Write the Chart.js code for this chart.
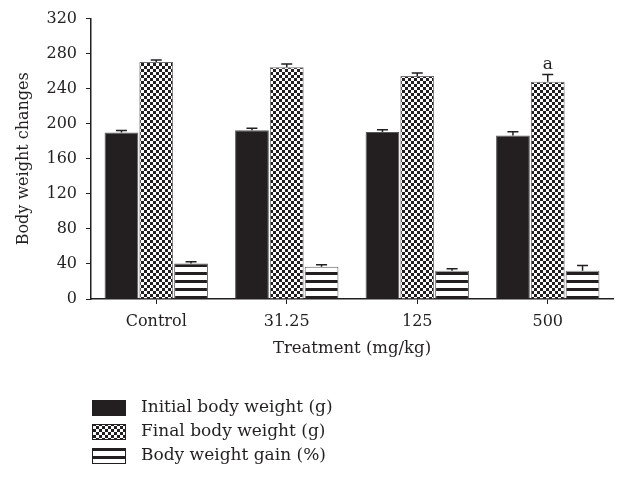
<!DOCTYPE html>
<html>
<head>
<meta charset="utf-8">
<script src="https://cdn.jsdelivr.net/npm/chart.js@4/dist/chart.umd.min.js"></script>
<style>
  html, body { margin: 0; padding: 0; background: #fff; }
  #wrap { width: 624px; height: 477px; position: relative; }
</style>
</head>
<body>
<div id="wrap"><canvas id="bwChart"></canvas></div>
<script>
// values
const treatments = ["Control", "31.25", "125", "500"];
const initialWeight = [190, 192.5, 190.5, 186.5];
const initialErr = [2.3, 2.3, 2.6, 4.5];
const finalWeight = [270.5, 264.5, 254.5, 248];
const finalErr = [2.3, 3.7, 3.4, 8.3];
const weightGain = [40.5, 36.7, 32.1, 32.1];
const gainErr = [2, 2.3, 2.3, 6];
const finalMarks = ["", "", "", "a"];
const yTicks = [0, 40, 80, 120, 160, 200, 240, 280, 320];

const ink = '#231f20';
const serif = "'DejaVu Serif', 'Liberation Serif', serif";

// checkerboard fill for final weight
function checkerPattern(size) {
  const c = document.createElement('canvas');
  c.width = size * 2; c.height = size * 2;
  const g = c.getContext('2d');
  g.fillStyle = '#fff'; g.fillRect(0, 0, c.width, c.height);
  g.fillStyle = ink;
  g.fillRect(0, 0, size, size);
  g.fillRect(size, size, size, size);
  return g.createPattern(c, 'repeat');
}

// horizontal stripes for weight gain
function stripePattern(period, thick) {
  const c = document.createElement('canvas');
  c.width = 4; c.height = period;
  const g = c.getContext('2d');
  g.fillStyle = '#fff'; g.fillRect(0, 0, c.width, c.height);
  g.fillStyle = ink; g.fillRect(0, 0, c.width, thick);
  return g.createPattern(c, 'repeat');
}

const errorSets = [initialErr, finalErr, gainErr];

// draws the upper error bars and the "a" mark
const errorBars = {
  id: 'errorBars',
  afterDatasetsDraw(chart) {
    const ctx = chart.ctx;
    const y = chart.scales.y;
    ctx.save();
    ctx.strokeStyle = ink;
    ctx.lineWidth = 1.5;
    chart.data.datasets.forEach(function (ds, d) {
      const meta = chart.getDatasetMeta(d);
      meta.data.forEach(function (bar, i) {
        const top = y.getPixelForValue(ds.data[i] + errorSets[d][i]);
        ctx.beginPath();
        ctx.moveTo(bar.x, bar.y);
        ctx.lineTo(bar.x, top);
        ctx.moveTo(bar.x - 5.5, top);
        ctx.lineTo(bar.x + 5.5, top);
        ctx.stroke();
        if (d === 1 && finalMarks[i]) {
          ctx.fillStyle = ink;
          ctx.font = "17px " + serif;
          ctx.textAlign = 'center';
          ctx.textBaseline = 'bottom';
          ctx.fillText(finalMarks[i], bar.x, top - 1);
        }
      });
    });
    ctx.restore();
  }
};

// stacked legend under the axis title
const stackedLegend = {
  id: 'stackedLegend',
  afterDraw(chart) {
    const ctx = chart.ctx;
    const x0 = 92;
    let yy = 400;
    ctx.save();
    ctx.font = "17px " + serif;
    ctx.textBaseline = 'middle';
    ctx.textAlign = 'left';
    chart.data.datasets.forEach(function (ds) {
      ctx.fillStyle = ds.backgroundColor;
      ctx.fillRect(x0, yy, 34, 16);
      ctx.strokeStyle = ink;
      ctx.lineWidth = 1;
      ctx.strokeRect(x0 + 0.5, yy + 0.5, 33, 15);
      ctx.fillStyle = ink;
      ctx.fillText(ds.label, 141, yy + 8);
      yy += 24;
    });
    ctx.restore();
  }
};

const ctx = document.getElementById('bwChart').getContext('2d');
const bwChart = new Chart(ctx, {
  type: 'bar',
  data: {
    labels: treatments,
    datasets: [
      {
        label: 'Initial body weight (g)',
        data: initialWeight,
        backgroundColor: ink,
        borderColor: '#58595b',
        borderWidth: 1
      },
      {
        label: 'Final body weight (g)',
        data: finalWeight,
        backgroundColor: checkerPattern(3),
        borderColor: '#6d6e71',
        borderWidth: 1
      },
      {
        label: 'Body weight gain (%)',
        data: weightGain,
        backgroundColor: stripePattern(8, 3),
        borderColor: '#58595b',
        borderWidth: 1
      }
    ]
  },
  options: {
    responsive: true,
    maintainAspectRatio: false,
    animation: false,
    categoryPercentage: 0.8,
    barPercentage: 0.97,
    layout: { padding: { left: 10, right: 11, top: 17, bottom: 118 } },
    plugins: {
      legend: { display: false },
      tooltip: { enabled: false }
    },
    scales: {
      x: {
        grid: { display: true, drawOnChartArea: false, offset: false, tickLength: 5, color: ink },
        border: { color: ink, width: 1.5 },
        ticks: { color: ink, padding: 8, font: { family: serif, size: 16 } },
        title: {
          display: true,
          text: 'Treatment (mg/kg)',
          color: ink,
          padding: { top: 4, bottom: 0 },
          font: { family: serif, size: 16.5 }
        },
        afterFit: function (scale) { scale.height = 60; }
      },
      y: {
        min: 0,
        max: 320,
        afterBuildTicks: function (scale) {
          scale.ticks = yTicks.map(function (v) { return { value: v }; });
        },
        grid: { display: true, drawOnChartArea: false, tickLength: 5, color: ink },
        border: { color: ink, width: 1.5 },
        ticks: { color: ink, padding: 9, font: { family: serif, size: 16 } },
        title: {
          display: true,
          text: 'Body weight changes',
          color: ink,
          padding: { top: 4, bottom: 0 },
          font: { family: serif, size: 16 }
        },
        afterFit: function (scale) { scale.width = 81; }
      }
    }
  },
  plugins: [errorBars, stackedLegend]
});
</script>
</body>
</html>
